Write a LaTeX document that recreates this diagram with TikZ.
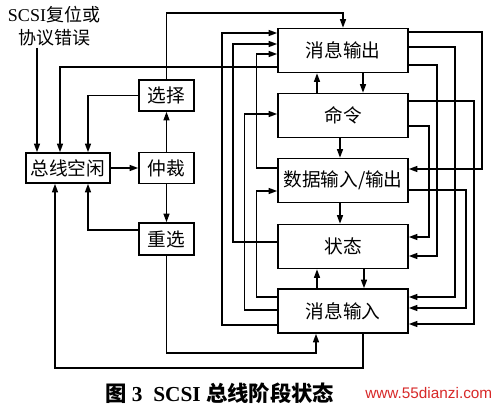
\documentclass[tikz,border=0pt]{standalone}
\usepackage{fontspec}
\setmainfont{Liberation Serif}
\newfontfamily\cjk{Noto Sans CJK SC}
\newfontfamily\wmfont{Liberation Sans}
\newcommand\zhtext[1]{{\cjk #1}}
\usetikzlibrary{arrows.meta}
\definecolor{wmred}{RGB}{215,40,40}
\begin{document}
\begin{tikzpicture}[x=0.75pt,y=-0.75pt,
  box/.style={draw, line width=1.15pt, inner sep=0pt, font=\cjk\fontsize{14}{16}\selectfont},
  bigbox/.style={box, minimum width=97.5pt, minimum height=33pt},
  sbox/.style={box, minimum width=41.25pt, minimum height=23.25pt},
  ln/.style={line width=1.15pt},
  arr/.style={line width=1.15pt, -{Triangle[length=6.5pt,width=4.5pt]}}]
\useasboundingbox (0,0) rectangle (500,410);

% right column
\node[bigbox] (mo)  at (343,50.5)  {消息输出};
\node[bigbox] (cmd) at (343,115.5) {命令};
\node[bigbox] (sd)  at (343,180.5) {数据输入/输出};
\node[bigbox] (st)  at (343,246.5) {状态};
\node[bigbox] (mi)  at (343,311)   {消息输入};

% left part
\node[box, minimum width=63pt, minimum height=22.5pt] (idle) at (68,168) {总线空闲};
\node[sbox] (arb)   at (166.5,168)  {仲裁};
\node[sbox] (sel)   at (166.5,95.5) {选择};
\node[sbox, minimum height=24pt] (resel) at (166.5,239) {重选};

\node[font=\fontsize{13.5}{17}\selectfont, align=center, inner sep=0pt] (lbl) at (54,26)
  {SCSI\zhtext{复位或}\\\zhtext{协议错误}};
\coordinate (lblend) at (37,48);

% left connections
\draw[arr] (lblend) -- (idle.north -| lblend);
\draw[arr] (mo.west |- 0,67) -| (idle.north -| 60,0);
\draw[arr] (sel.west) -| (idle.north -| 88,0);
\draw[arr] (idle.east) -- (arb.west);
\draw[arr] (arb.north) -- (sel.south);
\draw[arr] (arb.south) -- (resel.north);
\draw[arr] (sel.north) -- (sel.north |- 0,13) -| (mo.north);
\draw[arr] (resel.west |- 0,230) -| (idle.south -| 88,0);
\draw[arr] (resel.south) |- (316,353) -- (mi.south -| 316,0);
\draw[arr] (mi.south -| 363,0) -- (363,368) -| (idle.south -| 55,0);

% vertical between right boxes
\draw[arr] (cmd.north -| 317,0) -- (mo.south -| 317,0);
\draw[arr] (mo.south -| 363,0) -- (cmd.north -| 363,0);
\draw[arr] (cmd.south -| 340,0) -- (sd.north -| 340,0);
\draw[arr] (sd.south -| 340,0) -- (st.north -| 340,0);
\draw[arr] (mi.north -| 317,0) -- (st.south -| 317,0);
\draw[arr] (st.south -| 364,0) -- (mi.north -| 364,0);

% left side loops
\draw[arr] (sd.west |- 0,168) -- (256.5,168) |- (mo.west |- 0,54);
\draw[arr] (st.west |- 0,242) -- (233,242) |- (mo.west |- 0,44);
\draw[arr] (mi.west |- 0,325) -- (222,325) |- (mo.west |- 0,33);
\draw[arr] (mi.west |- 0,310) -- (244.5,310) |- (cmd.west |- 0,114);
\draw[arr] (mi.west |- 0,297) -- (256.5,297) |- (sd.west |- 0,191);

% right side loops
\draw[arr] (mo.east |- 0,32) -- (482,32) |- (sd.east |- 0,169);
\draw[arr] (mo.east |- 0,47) -- (455,47) |- (mi.east |- 0,297);
\draw[arr] (mo.east |- 0,65) -- (437,65) |- (st.east |- 0,256);
\draw[arr] (cmd.east |- 0,101) -- (474,101) |- (mi.east |- 0,324);
\draw[arr] (cmd.east |- 0,126) -- (429,126) |- (st.east |- 0,237);
\draw[arr] (sd.east |- 0,190) -- (466,190) |- (mi.east |- 0,308);

% caption and watermark
\node[anchor=west, font=\bfseries\fontsize{16}{18}\selectfont, inner sep=0pt] (cap) at (105,393)
  {\zhtext{图}\ 3\ \ SCSI\ \zhtext{总线阶段状态}};
\node[anchor=west, font=\wmfont\fontsize{11.5}{13}\selectfont, text=wmred, inner sep=0pt] (wmk) at (365,393)
  {www.55dianzi.com};
\end{tikzpicture}
\end{document}
